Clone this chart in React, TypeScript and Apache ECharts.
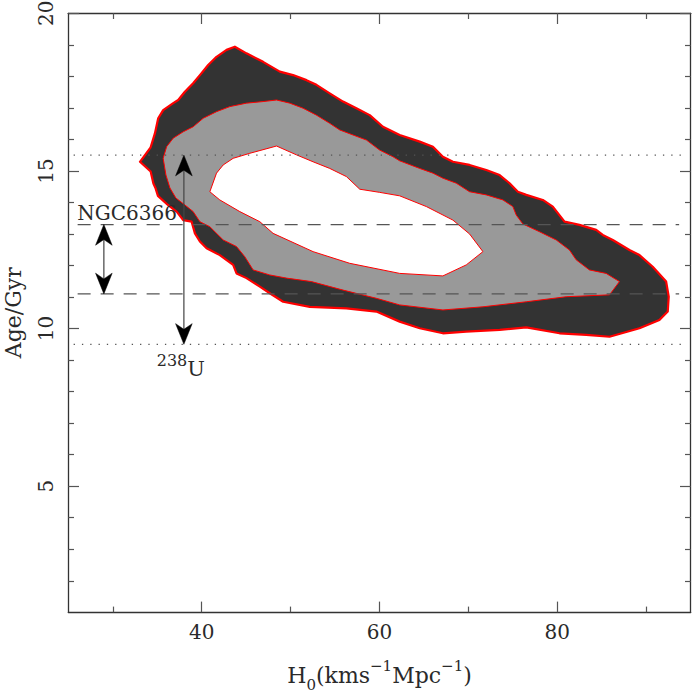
import React, { useEffect, useRef } from "react";
import * as echarts from "echarts";

// Axis ranges and ticks
const X_RANGE = [25, 95];
const Y_RANGE = [1, 20];
const X_MAJOR_TICKS = [40, 60, 80];
const X_MINOR_TICKS = [30, 50, 70, 90];
const Y_MAJOR_TICKS = [5, 10, 15, 20];
const Y_MINOR_TICKS = [2, 3, 4, 6, 7, 8, 9, 11, 12, 13, 14, 16, 17, 18, 19];

// Confidence contours (H0, Age)
const OUTER_CONTOUR = [
  [33.06, 15.29], [34.26, 15.75], [34.74, 16.19], [35.11, 16.67], [35.67, 16.93], [36.8, 17.15],
  [37.36, 17.25], [38.11, 17.51], [39.04, 17.78], [39.8, 18.04], [40.73, 18.36], [41.67, 18.62],
  [42.8, 18.84], [43.73, 18.94], [45.04, 18.73], [46.91, 18.46], [48.79, 18.15], [50.28, 18.04],
  [51.79, 17.88], [52.91, 17.73], [54.4, 17.46], [55.9, 17.2], [57.4, 16.99], [58.9, 16.77],
  [60.39, 16.4], [62.27, 16.14], [64.52, 15.93], [66.01, 15.77], [67.13, 15.45], [68.26, 15.29],
  [70.13, 15.19], [72.01, 15.03], [73.51, 14.87], [74.63, 14.61], [75.56, 14.34], [76.51, 14.24],
  [78.37, 14.08], [79.49, 13.87], [80.81, 13.39], [82.49, 13.29], [84.37, 13.13], [85.11, 12.97],
  [86.24, 12.81], [88.11, 12.49], [89.24, 12.33], [90.73, 11.96], [92.24, 11.49], [92.53, 11.01],
  [92.42, 10.54], [91.48, 10.27], [89.24, 10.01], [85.87, 9.74], [83.25, 9.8], [80.25, 9.85],
  [76.51, 10.04], [73.51, 9.96], [69.76, 9.9], [67.13, 9.85], [64.52, 10.01], [62.27, 10.22],
  [59.65, 10.54], [56.28, 10.64], [52.16, 10.69], [49.16, 10.85], [47.66, 11.12], [46.54, 11.33],
  [45.04, 11.6], [43.92, 11.75], [43.54, 12.02], [42.04, 12.33], [40.55, 12.55], [39.8, 12.76],
  [39.24, 13.02], [38.87, 13.39], [37.92, 13.44], [37.21, 13.7], [36.2, 13.92], [35.08, 14.21],
  [34.8, 14.46], [34.57, 14.6], [34.26, 14.98],
];
const MIDDLE_CONTOUR = [
  [35.67, 15.4], [36.06, 15.77], [36.8, 16.04], [37.92, 16.24], [39.04, 16.4], [40.17, 16.67],
  [41.67, 16.88], [43.17, 17.04], [45.04, 17.15], [46.91, 17.2], [48.42, 17.25], [49.91, 17.15],
  [51.4, 16.99], [52.91, 16.77], [54.4, 16.51], [55.53, 16.3], [57.02, 16.14], [58.53, 15.98],
  [60.02, 15.66], [61.52, 15.45], [62.27, 15.32], [64.52, 15.08], [66.01, 14.93], [67.13, 14.77],
  [68.64, 14.61], [70.13, 14.34], [72.01, 14.24], [73.88, 14.08], [75.0, 13.87], [75.38, 13.6],
  [76.12, 13.32], [78.0, 13.07], [79.88, 12.81], [81.37, 12.49], [82.12, 12.18], [83.61, 11.86],
  [85.49, 11.75], [86.99, 11.49], [85.87, 11.07], [81.0, 11.01], [76.51, 10.85], [71.63, 10.69],
  [67.13, 10.59], [62.27, 10.75], [59.65, 10.96], [55.9, 11.22], [52.35, 11.49], [49.54, 11.6],
  [47.66, 11.7], [45.79, 11.86], [44.85, 12.28], [43.92, 12.6], [42.42, 12.81], [40.92, 13.23],
  [39.8, 13.39], [39.04, 13.71], [38.11, 13.92], [37.1, 14.14], [36.43, 14.46], [35.98, 14.87],
];
const INNER_CONTOUR = [
  [40.92, 14.34], [41.67, 14.93], [42.42, 15.19], [43.54, 15.4], [45.42, 15.56], [48.42, 15.79],
  [50.66, 15.51], [52.53, 15.29], [54.4, 15.08], [56.28, 14.82], [57.78, 14.42], [60.02, 14.32],
  [62.27, 14.21], [65.27, 13.87], [68.26, 13.44], [70.13, 13.0], [71.63, 12.44], [69.76, 12.02],
  [67.13, 11.67], [62.27, 11.75], [56.65, 12.07], [52.53, 12.44], [48.03, 13.02], [46.54, 13.39],
  [44.29, 13.71], [42.04, 14.08],
];

// Age constraints
const U238_AGE_RANGE = [9.5, 15.5];
const NGC6366_AGE_RANGE = [11.1, 13.3];
const U238_ARROW_H0 = 38;
const NGC6366_ARROW_H0 = 29;
const DOTTED_H0_SPAN = [25.6, 94.5];
const DASHED_H0_SPAN = [26.05, 93.7];

const FONT = "DejaVu Serif";
const TEXT_COLOR = "#2a2a2a";

function polygonSeries(points: number[][], fill: string, stroke: string, lineWidth: number) {
  return {
    type: "custom",
    coordinateSystem: "cartesian2d",
    xAxisIndex: 0,
    yAxisIndex: 0,
    silent: true,
    data: points,
    encode: { x: 0, y: 1 },
    renderItem: (params: any, api: any) => {
      if (params.dataIndex !== 0) return null;
      return {
        type: "polygon",
        shape: { points: points.map((p) => api.coord(p)) },
        style: { fill, stroke, lineWidth, lineJoin: "round" },
      };
    },
  };
}

function arrowHead(tip: number[], dir: number) {
  // dir = 1 pointing up (tip on top), -1 pointing down
  const w = 8.3, h = 20.7, n = 15;
  const [x, y] = tip;
  return {
    type: "polygon",
    shape: {
      points: [
        [x, y],
        [x + w, y + dir * h],
        [x, y + dir * n],
        [x - w, y + dir * h],
      ],
    },
    style: { fill: "#000", stroke: "#000", lineWidth: 0.5 },
  };
}

function doubleArrow(api: any, h0: number, range: number[]) {
  const top = api.coord([h0, range[1]]);
  const bot = api.coord([h0, range[0]]);
  return [
    {
      type: "line",
      shape: { x1: top[0], y1: top[1] + 8, x2: bot[0], y2: bot[1] - 8 },
      style: { stroke: "#444", lineWidth: 1.2 },
    },
    arrowHead(top, 1),
    arrowHead(bot, -1),
  ];
}

function hLine(api: any, span: number[], y: number, dash: number[], color: string) {
  const a = api.coord([span[0], y]);
  const b = api.coord([span[1], y]);
  return {
    type: "line",
    shape: { x1: a[0], y1: a[1], x2: b[0], y2: b[1] },
    style: { stroke: color, lineWidth: 1.3, lineDash: dash },
  };
}

const annotationSeries = {
  type: "custom",
  coordinateSystem: "cartesian2d",
  xAxisIndex: 0,
  yAxisIndex: 0,
  silent: true,
  data: [[U238_ARROW_H0, U238_AGE_RANGE[0]]],
  encode: { x: 0, y: 1 },
  renderItem: (params: any, api: any) => {
    const children: any[] = [];
    U238_AGE_RANGE.forEach((a) => children.push(hLine(api, DOTTED_H0_SPAN, a, [1.3, 7], "#555")));
    NGC6366_AGE_RANGE.forEach((a) => children.push(hLine(api, DASHED_H0_SPAN, a, [13, 10], "#555")));
    children.push(...doubleArrow(api, U238_ARROW_H0, U238_AGE_RANGE));
    children.push(...doubleArrow(api, NGC6366_ARROW_H0, NGC6366_AGE_RANGE));
    const ngcPos = api.coord([26.0, NGC6366_AGE_RANGE[1] + 0.05]);
    children.push({
      type: "text",
      x: ngcPos[0],
      y: ngcPos[1],
      style: {
        text: "NGC6366",
        fontFamily: FONT,
        fontSize: 20,
        fill: TEXT_COLOR,
        align: "left",
        verticalAlign: "bottom",
        textAlign: "left",
        textVerticalAlign: "bottom",
      },
    });
    const uPos = api.coord([37.66, 9.25]);
    children.push({
      type: "text",
      x: uPos[0],
      y: uPos[1],
      style: {
        text: "{p|238}{b|U}",
        fill: TEXT_COLOR,
        align: "center",
        verticalAlign: "top",
        textAlign: "center",
        textVerticalAlign: "top",
        rich: {
          p: { fontFamily: FONT, fontSize: 16, lineHeight: 16, verticalAlign: "top", fill: TEXT_COLOR },
          b: { fontFamily: FONT, fontSize: 21, lineHeight: 34, verticalAlign: "middle", fill: TEXT_COLOR },
        },
      },
    });
    return { type: "group", children };
  },
};

const axisLineStyle = { show: true, onZero: false, lineStyle: { color: "#333", width: 1.3 } };
const tickStyle = { color: "#555", width: 1.2 };

function makeXAxis(position: string, ticks: number[], len: number, withLine: boolean, withLabels: boolean, extra: any = {}) {
  return {
    type: "value",
    position,
    min: X_RANGE[0],
    max: X_RANGE[1],
    axisLine: withLine ? axisLineStyle : { show: false },
    axisTick: { show: true, inside: true, length: len, customValues: ticks, lineStyle: tickStyle },
    axisLabel: withLabels
      ? { show: true, customValues: ticks, margin: 10, fontFamily: FONT, fontSize: 20, color: TEXT_COLOR }
      : { show: false },
    splitLine: { show: false },
    ...extra,
  };
}

function makeYAxis(position: string, ticks: number[], len: number, withLine: boolean, withLabels: boolean, extra: any = {}) {
  return {
    type: "value",
    position,
    min: Y_RANGE[0],
    max: Y_RANGE[1],
    axisLine: withLine ? axisLineStyle : { show: false },
    axisTick: { show: true, inside: true, length: len, customValues: ticks, lineStyle: tickStyle },
    axisLabel: withLabels
      ? { show: true, customValues: ticks, rotate: 90, margin: 12, fontFamily: FONT, fontSize: 20, color: TEXT_COLOR }
      : { show: false },
    splitLine: { show: false },
    ...extra,
  };
}

export default function App() {
  const ref = useRef<HTMLDivElement>(null);
  useEffect(() => {
    if (!ref.current) return;
    const chart = echarts.init(ref.current, null, { renderer: "svg" });
    chart.setOption({
      animation: false,
      backgroundColor: "#fff",
      grid: {
        left: 68.3,
        right: 1.3,
        top: 13.3,
        bottom: 81.7,
        containLabel: false,
        outerBoundsMode: "none",
      },
      xAxis: [
        makeXAxis("bottom", X_MAJOR_TICKS, 10.7, true, true, {
          name: "{b|H}{s|0}{b|(kms}{p|−1}{b|Mpc}{p|−1}{b|)}",
          nameLocation: "middle",
          nameGap: 46.5,
          nameTextStyle: {
            fontFamily: FONT,
            fontSize: 22,
            color: TEXT_COLOR,
            rich: {
              b: { fontFamily: FONT, fontSize: 22, lineHeight: 34, verticalAlign: "middle", color: TEXT_COLOR },
              s: { fontFamily: FONT, fontSize: 15, lineHeight: 16, verticalAlign: "bottom", color: TEXT_COLOR },
              p: { fontFamily: FONT, fontSize: 15, lineHeight: 4, verticalAlign: "top", color: TEXT_COLOR },
            },
          },
        }),
        makeXAxis("bottom", X_MINOR_TICKS, 5.7, false, false),
        makeXAxis("top", X_MAJOR_TICKS, 10.7, true, false),
        makeXAxis("top", X_MINOR_TICKS, 5.7, false, false),
      ],
      yAxis: [
        makeYAxis("left", Y_MAJOR_TICKS, 10.7, true, true, {
          name: "Age/Gyr",
          nameLocation: "middle",
          nameGap: 44,
          nameTextStyle: { fontFamily: FONT, fontSize: 22, color: TEXT_COLOR },
        }),
        makeYAxis("left", Y_MINOR_TICKS, 5.7, false, false),
        makeYAxis("right", Y_MAJOR_TICKS, 10.7, true, false),
        makeYAxis("right", Y_MINOR_TICKS, 5.7, false, false),
      ],
      series: [
        polygonSeries(OUTER_CONTOUR, "#333333", "#ff0000", 2.2),
        polygonSeries(MIDDLE_CONTOUR, "#999999", "#ff0000", 1),
        polygonSeries(INNER_CONTOUR, "#ffffff", "#ff0000", 1),
        annotationSeries,
      ],
    });
    return () => chart.dispose();
  }, []);
  return <div ref={ref} style={{ position: "fixed", left: 0, top: 0, width: 692, height: 694 }} />;
}
